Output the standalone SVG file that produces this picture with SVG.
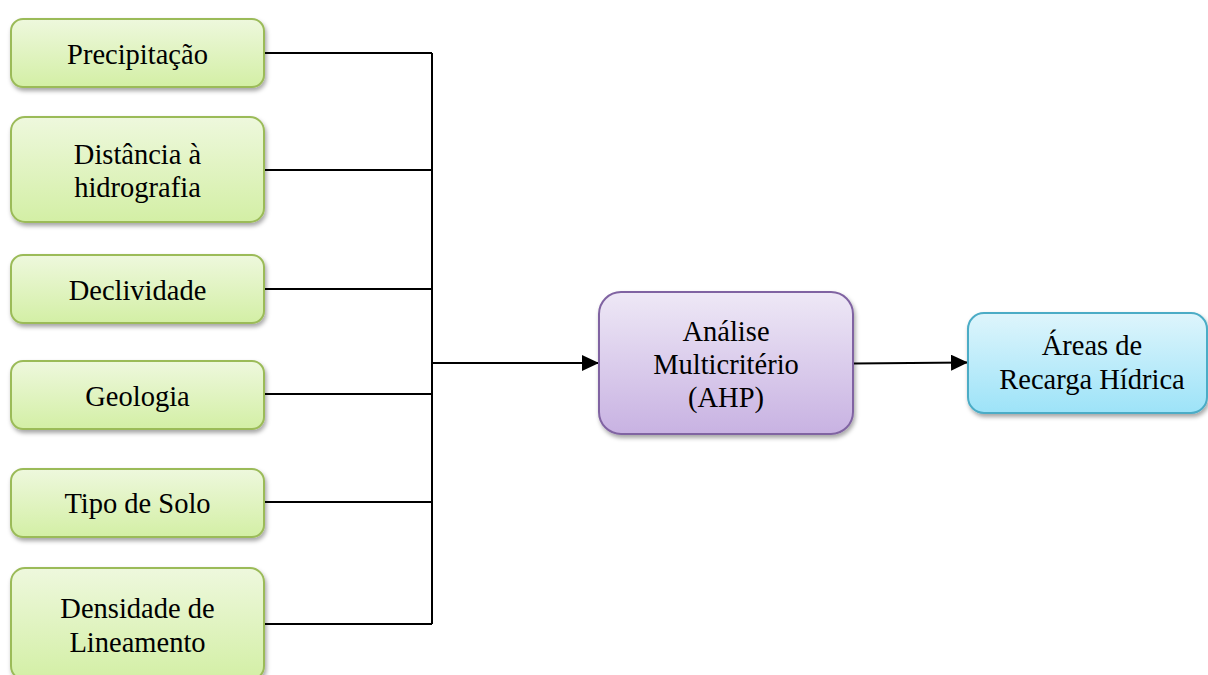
<svg xmlns="http://www.w3.org/2000/svg" width="1208" height="675" viewBox="0 0 1208 675">
<defs>
<linearGradient id="gGreen" x1="0" y1="0" x2="0" y2="1">
<stop offset="0" stop-color="#eef8dd"/>
<stop offset="1" stop-color="#d3efa5"/>
</linearGradient>
<linearGradient id="gPurple" x1="0" y1="0" x2="0" y2="1">
<stop offset="0" stop-color="#eee8f6"/>
<stop offset="1" stop-color="#c8b2e2"/>
</linearGradient>
<linearGradient id="gBlue" x1="0" y1="0" x2="0" y2="1">
<stop offset="0" stop-color="#def5fc"/>
<stop offset="1" stop-color="#9de3f8"/>
</linearGradient>
<filter id="shadow" x="-10%" y="-10%" width="130%" height="140%">
<feDropShadow dx="1.5" dy="3" stdDeviation="2" flood-color="#000" flood-opacity="0.35"/>
</filter>
<marker id="arrowL" markerWidth="17" markerHeight="16" refX="17" refY="8" orient="auto" markerUnits="userSpaceOnUse" viewBox="0 0 17 16">
<path d="M0,0 L17,8 L0,16 z" fill="#000"/>
</marker>
</defs>
<style>
.green{fill:url(#gGreen);stroke:#9bbb59;stroke-width:2;filter:url(#shadow)}
.purple{fill:url(#gPurple);stroke:#8064a2;stroke-width:2;filter:url(#shadow)}
.blue{fill:url(#gBlue);stroke:#4bacc6;stroke-width:2;filter:url(#shadow)}
.conn{stroke:#000;stroke-width:2;fill:none}
</style>
<rect width="1208" height="675" fill="#fff"/>
<g id="connectors">
<path class="conn" d="M264,53 H432 M264,170 H432 M264,289 H432 M264,394 H432 M264,502 H432 M264,624 H432 M432,53 V624"/>
<line class="conn" x1="432" y1="363" x2="599" y2="363" stroke-width="2.5" marker-end="url(#arrowL)"/>
<line class="conn" x1="853" y1="363.5" x2="968" y2="362.5" stroke-width="1.5" marker-end="url(#arrowL)"/>
</g>
<g font-family="Liberation Serif" font-size="28.5" text-anchor="middle" fill="#000">
<g id="n-precipitacao">
<rect class="green" x="11" y="19" width="253" height="68" rx="12"/>
<text x="137.5" y="64">Precipitação</text>
</g>
<g id="n-distancia">
<rect class="green" x="11" y="117" width="253" height="105" rx="14"/>
<text x="137.5" y="164">Distância à</text>
<text x="137.5" y="197">hidrografia</text>
</g>
<g id="n-declividade">
<rect class="green" x="11" y="255" width="253" height="68" rx="12"/>
<text x="137.5" y="300">Declividade</text>
</g>
<g id="n-geologia">
<rect class="green" x="11" y="361" width="253" height="68" rx="12"/>
<text x="137.5" y="406">Geologia</text>
</g>
<g id="n-solo">
<rect class="green" x="11" y="469" width="253" height="68" rx="12"/>
<text x="137.5" y="513">Tipo de Solo</text>
</g>
<g id="n-densidade">
<rect class="green" x="11" y="568" width="253" height="112" rx="14"/>
<text x="137.5" y="618">Densidade de</text>
<text x="137.5" y="652">Lineamento</text>
</g>
<g id="n-ahp">
<rect class="purple" x="599" y="292" width="254" height="142" rx="22"/>
<text x="726" y="341">Análise</text>
<text x="726" y="374">Multicritério</text>
<text x="726" y="407">(AHP)</text>
</g>
<g id="n-areas">
<rect class="blue" x="968" y="313" width="239" height="100" rx="16"/>
<text x="1092" y="355">Áreas de</text>
<text x="1092" y="389">Recarga Hídrica</text>
</g>
</g>
</svg>
